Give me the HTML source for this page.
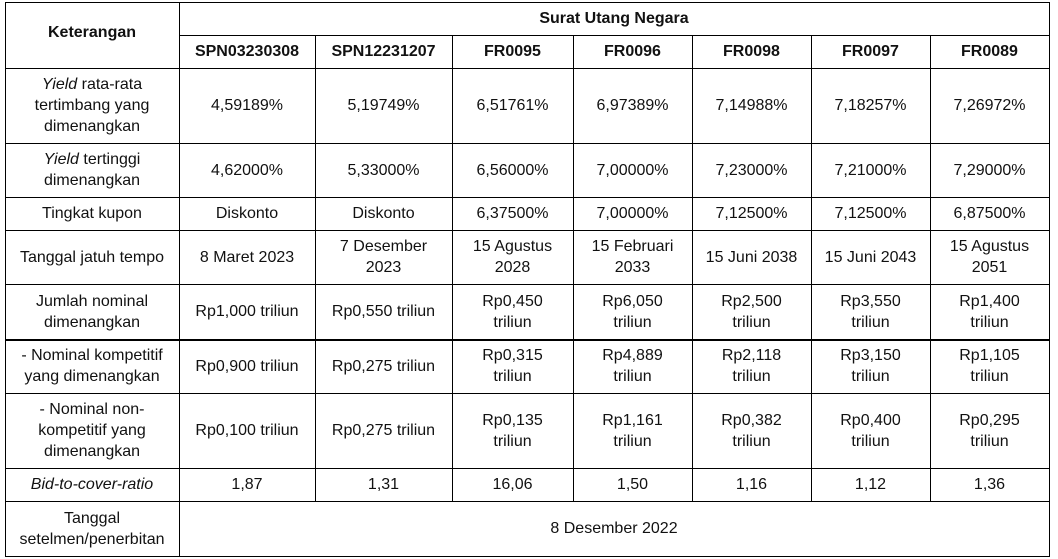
<!DOCTYPE html>
<html><head><meta charset="utf-8"><style>
body{margin:0;width:1058px;height:559px;background:#fff;position:relative;overflow:hidden;font-family:"Liberation Sans",sans-serif;color:#111;}
.c{position:absolute;display:flex;align-items:center;justify-content:center;text-align:center;font-size:16px;line-height:21px;box-sizing:border-box;}
.c>span{display:block;}
.h{font-weight:bold;}
.l{position:absolute;background:#000;}
</style></head><body>
<div id="grid"></div>
<script>
const xs=[5,179,315,452,573,692,811,930,1049];
const ys=[2,35,68,143,197,230,284,339,393,468,501,556];
const body=document.body;
function cell(x1,x2,y1,y2,html,cls,name){const d=document.createElement('div');d.className='c '+(cls||'');
d.style.left=x1+'px';d.style.top=y1+'px';d.style.width=(x2-x1)+'px';d.style.height=(y2-y1)+'px';d.innerHTML='<span>'+html+'</span>';


body.appendChild(d);}
function line(x,y,w,h,name){const d=document.createElement('div');d.className='l';d.style.left=x+'px';d.style.top=y+'px';d.style.width=w+'px';d.style.height=h+'px';


body.appendChild(d);}
const codes=['SPN03230308','SPN12231207','FR0095','FR0096','FR0098','FR0097','FR0089'];
const labels=['<i>Yield</i> rata-rata<br>tertimbang yang<br>dimenangkan','<i>Yield</i> tertinggi<br>dimenangkan','Tingkat kupon','Tanggal jatuh tempo','Jumlah nominal<br>dimenangkan','- Nominal kompetitif<br>yang dimenangkan','- Nominal non-<br>kompetitif yang<br>dimenangkan','<i>Bid-to-cover-ratio</i>'];
const rows=[
['4,59189%','5,19749%','6,51761%','6,97389%','7,14988%','7,18257%','7,26972%'],
['4,62000%','5,33000%','6,56000%','7,00000%','7,23000%','7,21000%','7,29000%'],
['Diskonto','Diskonto','6,37500%','7,00000%','7,12500%','7,12500%','6,87500%'],
['8 Maret 2023','7 Desember<br>2023','15 Agustus<br>2028','15 Februari<br>2033','15 Juni 2038','15 Juni 2043','15 Agustus<br>2051'],
['Rp1,000 triliun','Rp0,550 triliun','Rp0,450<br>triliun','Rp6,050<br>triliun','Rp2,500<br>triliun','Rp3,550<br>triliun','Rp1,400<br>triliun'],
['Rp0,900 triliun','Rp0,275 triliun','Rp0,315<br>triliun','Rp4,889<br>triliun','Rp2,118<br>triliun','Rp3,150<br>triliun','Rp1,105<br>triliun'],
['Rp0,100 triliun','Rp0,275 triliun','Rp0,135<br>triliun','Rp1,161<br>triliun','Rp0,382<br>triliun','Rp0,400<br>triliun','Rp0,295<br>triliun'],
['1,87','1,31','16,06','1,50','1,16','1,12','1,36']];
cell(xs[0],xs[1],ys[0],ys[2]-6,'Keterangan','h','header-keterangan');
cell(xs[1],xs[8],ys[0],ys[1],'Surat Utang Negara','h','header-surat-utang-negara');
codes.forEach((c,i)=>cell(xs[i+1],xs[i+2],ys[1],ys[2],c,'h','header-'+c.toLowerCase()));
labels.forEach((t,r)=>{cell(xs[0],xs[1],ys[r+2],ys[r+3],t,'','row-label-'+r);
rows[r].forEach((v,i)=>cell(xs[i+1],xs[i+2],ys[r+2],ys[r+3],v,'','cell-'+r+'-'+i));});
cell(xs[0],xs[1],ys[10],ys[11],'Tanggal<br>setelmen/penerbitan','','row-label-settlement');
cell(xs[1],xs[8],ys[10],ys[11],'8 Desember 2022','','settlement-date');
line(xs[0],ys[0],xs[8]-xs[0]+1,1,'border-top');
line(xs[1],ys[1],xs[8]-xs[1],1,'header-divider');
for(let r=2;r<ys.length;r++){line(xs[0],ys[r],xs[8]-xs[0]+1,r===7?2:1,'row-line-'+r);}
line(xs[0],ys[0],1,ys[11]-ys[0]+1,'border-left');
line(xs[1],ys[0],1,ys[11]-ys[0]+1,'col-line-1');
for(let i=2;i<8;i++)line(xs[i],ys[1],1,ys[10]-ys[1],'col-line-'+i);
line(xs[8],ys[0],1,ys[11]-ys[0]+1,'border-right');
</script>
</body></html>
